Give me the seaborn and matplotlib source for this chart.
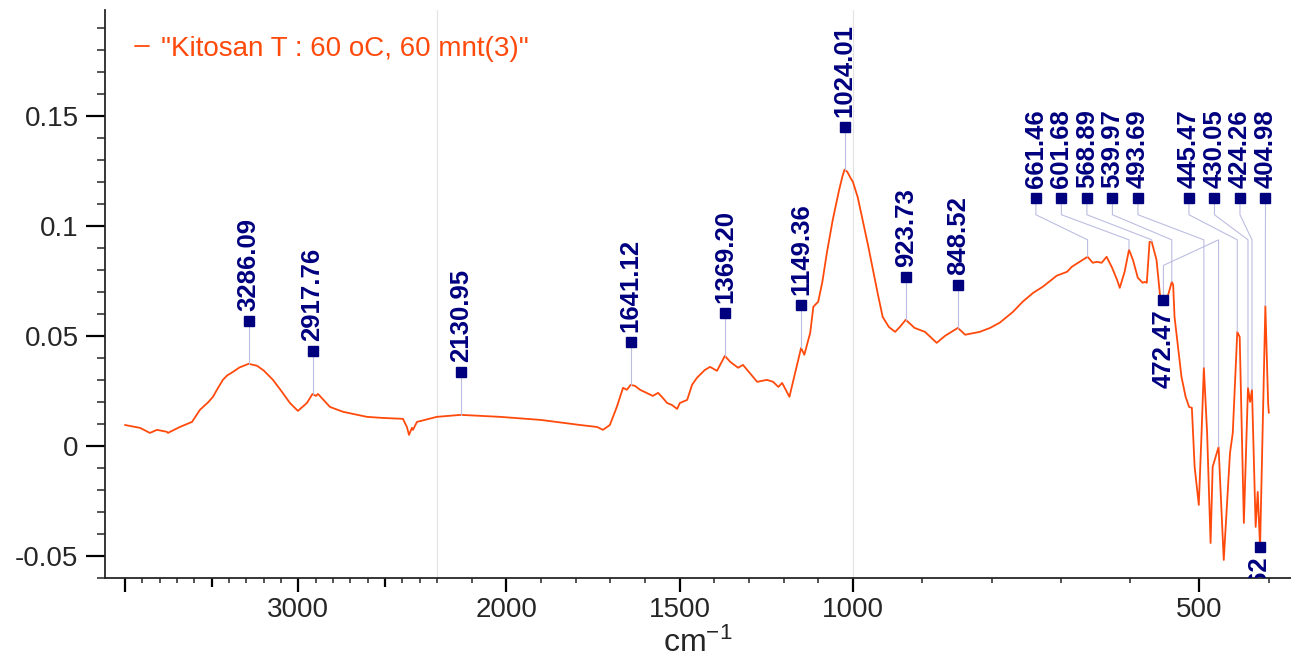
import numpy as np
import pandas as pd
import seaborn as sns
import matplotlib.pyplot as plt
from matplotlib.ticker import FixedLocator, FixedFormatter, MultipleLocator

# --- spectrum (cm-1, absorbance) ---
wavenumber = [4000, 3913, 3856, 3815, 3758, 3752, 3683, 3613, 3567, 3520, 3492, 3469, 3435, 3410,
              3377, 3340, 3286.09, 3238, 3200, 3146, 3100, 3048, 3002, 2950, 2917.76, 2898, 2886,
              2817, 2742, 2604, 2511, 2396, 2373, 2361, 2344, 2338, 2315, 2200, 2130.95, 2067,
              2018, 1900, 1787, 1738, 1721, 1701, 1692, 1681, 1663, 1652, 1641.12, 1629, 1614,
              1577, 1562, 1551, 1536, 1522, 1507, 1499, 1478, 1464, 1450, 1427, 1412, 1392,
              1369.20, 1354, 1331, 1317, 1276, 1248, 1230, 1215, 1204, 1183, 1166, 1149.36, 1140,
              1123, 1114, 1100, 1088, 1075, 1058, 1040, 1030, 1024.01, 1016, 1006, 1000, 993, 986,
              978, 971, 964, 957, 948, 939, 932, 923.73, 911, 896, 879, 867, 848.52, 838, 817,
              802, 788, 769, 755, 740, 726, 706, 691, 684, 673, 661.46, 654, 648, 641, 634, 626,
              619, 615, 608, 601.68, 596, 589, 582, 579, 576, 572, 568.89, 562, 557, 553, 546,
              539.97, 538, 536, 531, 526, 520, 515, 511, 507, 501, 497, 493.69, 489, 484, 481,
              472.47, 465, 456, 452, 445.47, 442, 436, 430.05, 427, 424.26, 419, 416, 412.62,
              409, 404.98, 401, 400]
absorbance = [0.0095, 0.0082, 0.0059, 0.0073, 0.0064, 0.0059, 0.0086, 0.0109, 0.0164, 0.0198,
              0.0223, 0.0255, 0.0300, 0.0320, 0.0336, 0.0356, 0.0373, 0.0364, 0.0343, 0.0300,
              0.0252, 0.0195, 0.0159, 0.0195, 0.0236, 0.0227, 0.0236, 0.0177, 0.0155, 0.0132,
              0.0127, 0.0123, 0.0086, 0.0050, 0.0082, 0.0073, 0.0109, 0.0132, 0.0141, 0.0136,
              0.0132, 0.0118, 0.0095, 0.0086, 0.0073, 0.0095, 0.0132, 0.0177, 0.0264, 0.0255,
              0.0277, 0.0273, 0.0255, 0.0227, 0.0241, 0.0223, 0.0195, 0.0186, 0.0168, 0.0195,
              0.0209, 0.0277, 0.0309, 0.0345, 0.0359, 0.0341, 0.0409, 0.0382, 0.0355, 0.0368,
              0.0291, 0.0300, 0.0291, 0.0268, 0.0286, 0.0223, 0.0336, 0.0445, 0.0414, 0.0514,
              0.0632, 0.0655, 0.0745, 0.0877, 0.1027, 0.1160, 0.1225, 0.1255, 0.1245, 0.1215,
              0.1200, 0.1130, 0.1027, 0.0910, 0.0800, 0.0690, 0.0586, 0.0540, 0.0518, 0.0541,
              0.0573, 0.0536, 0.0518, 0.0468, 0.0500, 0.0536, 0.0505, 0.0518, 0.0536, 0.0560,
              0.0609, 0.0655, 0.0695, 0.0723, 0.0773, 0.0791, 0.0814, 0.0836, 0.0859, 0.0832,
              0.0836, 0.0832, 0.0859, 0.0809, 0.0755, 0.0718, 0.0791, 0.0891, 0.0845, 0.0764,
              0.0741, 0.0745, 0.0741, 0.0927, 0.0927, 0.0845, 0.0686, 0.0673, 0.0677, 0.0745,
              0.0732, 0.0586, 0.0450, 0.0314, 0.0223, 0.0177, 0.0173, -0.0095, -0.0268, 0.0059,
              0.0355, 0.0059, -0.0441, -0.0095, -0.0005, -0.0518, -0.0032, 0.0059, 0.0518,
              0.0495, -0.0350, 0.0264, 0.0200, 0.0255, -0.0368, -0.0209, -0.0459, 0.0059,
              0.0636, 0.0195, 0.0150]

legend_label = '"Kitosan T : 60 oC, 60 mnt(3)"'

# peaks labelled straight above the curve
top_peaks = [3286.09, 2917.76, 2130.95, 1641.12, 1369.20, 1149.36, 1024.01, 923.73, 848.52]
# peaks labelled in the crowded fingerprint row (slot order left to right)
row_peaks = [661.46, 601.68, 568.89, 539.97, 493.69, 472.47, 445.47, 430.05, 424.26, 404.98]
# minimum labelled below
low_peaks = [412.62]

x_major = [4000, 3500, 3000, 2500, 2000, 1500, 1000, 500]
x_major_labels = ['', '', '3000', '', '2000', '1500', '1000', '500']
y_major = [-0.05, 0, 0.05, 0.1, 0.15]
y_major_labels = ['-0.05', '0', '0.05', '0.1', '0.15']

LINE = '#ff4a0c'
NAVY = '#00007f'
LEAD = '#bdbde2'

# --- styling ---
sns.set_style('ticks')
plt.rcParams['font.family'] = ['Liberation Sans', 'DejaVu Sans']
plt.rcParams['axes.unicode_minus'] = False
plt.rcParams['mathtext.default'] = 'regular'


# piecewise x scale: 4000-2200 x1, 2200-1000 x2, 1000-400 x4
def fwd(x):
    x = np.asarray(x, dtype=float)
    return np.where(x >= 2200, 4800 + (x - 2200),
                    np.where(x >= 1000, 2400 + (x - 1000) * 2, (x - 400) * 4))


def inv(u):
    u = np.asarray(u, dtype=float)
    return np.where(u >= 4800, 2200 + (u - 4800),
                    np.where(u >= 2400, 1000 + (u - 2400) / 2, 400 + u / 4))


fig = plt.figure(figsize=(12.91, 6.64), dpi=100)
ax = fig.add_axes([105 / 1291, 86 / 664, 1186 / 1291, 568 / 664])

df = pd.DataFrame({'wn': wavenumber, 'abs': absorbance})
sns.lineplot(data=df, x='wn', y='abs', ax=ax, color=LINE, lw=1.3,
             label=legend_label, estimator=None)

ax.set_xscale('function', functions=(fwd, inv))
ax.set_xlim(4115, 368)
ax.set_ylim(-0.06, 0.198)

# scale break guides
for b in [2200, 1000]:
    ax.axvline(b, color='#e2e2e2', lw=0.8, zorder=0)

# --- peak labels ---
wn_sorted = np.array(wavenumber)[::-1]
ab_sorted = np.array(absorbance)[::-1]


def curve_at(w):
    return float(np.interp(w, wn_sorted, ab_sorted))


LAB_FS = 18.5
lab_kw = dict(rotation=90, ha='center', fontsize=LAB_FS, fontweight='bold', color=NAVY,
              textcoords='offset points', annotation_clip=False)

for p in top_peaks:
    yv = curve_at(p)
    ym = yv + 0.0195
    ax.plot([p, p], [yv, ym], color=LEAD, lw=0.8, zorder=3)
    ax.plot(p, ym, 's', color=NAVY, ms=7.5, zorder=5)
    ax.annotate(f'{p:.2f}', (p, ym), xytext=(0, 7), va='bottom', **lab_kw)

slot_x = inv(fwd(736) - np.arange(len(row_peaks)) * 147.2)
row_y, knee_y, elbow_y = 0.1127, 0.105, 0.0936
for p, sx in zip(row_peaks, slot_x):
    yv = curve_at(p)
    if p == 472.47:
        ym = 0.0665
        ax.plot([sx, sx, p, p], [ym, 0.082, elbow_y, yv], color=LEAD, lw=0.8, zorder=3)
        ax.plot(sx, ym, 's', color=NAVY, ms=7.5, zorder=5)
        ax.annotate(f'{p:.2f}', (sx, ym), xytext=(0, -7), va='top', **lab_kw)
    else:
        ax.plot([sx, sx, p, p], [row_y, knee_y, elbow_y, yv], color=LEAD, lw=0.8, zorder=3)
        ax.plot(sx, row_y, 's', color=NAVY, ms=7.5, zorder=5)
        ax.annotate(f'{p:.2f}', (sx, row_y), xytext=(0, 7), va='bottom', **lab_kw)

for p in low_peaks:
    yv = curve_at(p)
    ax.plot(p, yv, 's', color=NAVY, ms=7.5, zorder=5)
    ax.annotate(f'{p:.2f}', (p, yv), xytext=(0, -7), va='top', clip_on=True,
                rotation=90, ha='center', fontsize=LAB_FS, fontweight='bold',
                color=NAVY, textcoords='offset points')

# --- axes ---
sns.despine(ax=ax, top=True, right=True)
ax.spines['left'].set_linewidth(1.3)
ax.spines['bottom'].set_linewidth(1.3)

ax.xaxis.set_major_locator(FixedLocator(x_major))
ax.xaxis.set_major_formatter(FixedFormatter(x_major_labels))
ax.xaxis.set_minor_locator(FixedLocator([v for v in range(400, 4001, 100) if v not in x_major]))
ax.yaxis.set_major_locator(FixedLocator(y_major))
ax.yaxis.set_major_formatter(FixedFormatter(y_major_labels))
ax.yaxis.set_minor_locator(MultipleLocator(0.01))

ax.tick_params(axis='both', which='major', labelsize=20, width=1.6, color='black')
ax.tick_params(axis='x', which='major', length=10, pad=4)
ax.tick_params(axis='y', which='major', length=14, pad=5)
ax.tick_params(axis='x', which='minor', length=3.5, width=1.1)
ax.tick_params(axis='y', which='minor', length=5.5, width=1.1)

for tk, v in zip(ax.xaxis.get_major_ticks(), x_major):
    if v in (3500, 2500):
        tk.tick1line.set_markersize(6.5)

ax.set_xlabel('cm$^{-1}$', fontsize=23, labelpad=3)
ax.set_ylabel('')
ax.grid(False)

ax.legend(loc='upper left', bbox_to_anchor=(0.025, 0.955), frameon=False, fontsize=20,
          handlelength=0.5, handletextpad=0.45, labelcolor=LINE,
          borderaxespad=0, borderpad=0)

fig.savefig('out.png', dpi=100)
